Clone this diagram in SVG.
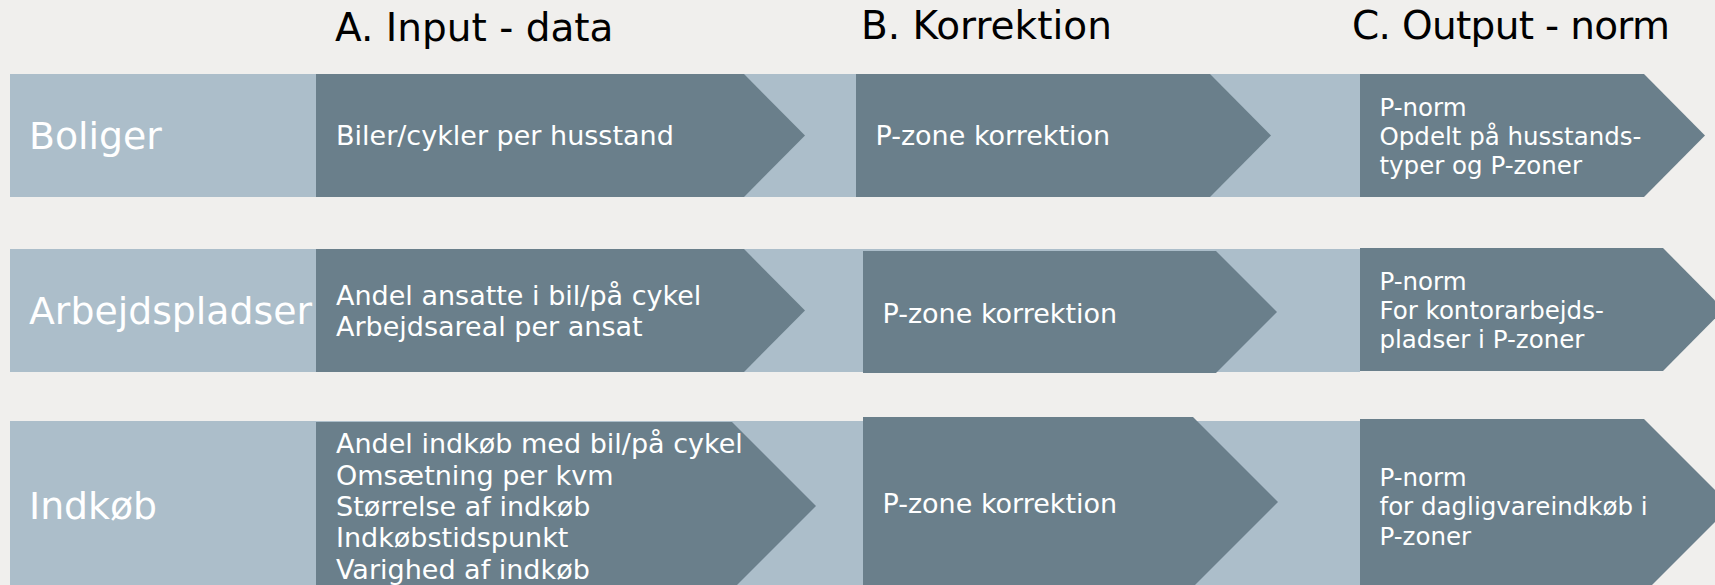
<svg xmlns="http://www.w3.org/2000/svg" width="1715" height="585" viewBox="0 0 1715 585">
<style>
.bg{fill:#F0EFED}
.band{fill:#ACBECA}
.chev{fill:#6A7F8B}
text{font-family:"DejaVu Sans","Verdana",sans-serif}
.hdr{fill:#000;font-size:39px}
.lbl{fill:#fff;font-size:37.8px}
.t{fill:#fff;font-size:27px}
.tc{fill:#fff;font-size:24.5px}
</style>
<rect class="bg" x="0" y="0" width="1715" height="585"/>
<g id="headers">
<text class="hdr" x="335" y="41">A. Input - data</text>
<text class="hdr" x="861" y="39">B. Korrektion</text>
<text class="hdr" x="1352" y="39" textLength="318">C. Output - norm</text>
</g>
<g id="row-boliger">
<rect class="band" x="10" y="74" width="1350" height="123"/>
<text class="lbl" x="29" y="149">Boliger</text>
</g>
<g id="row-arbejdspladser">
<rect class="band" x="10" y="249" width="1350" height="123"/>
<text class="lbl" x="29" y="324">Arbejdspladser</text>
</g>
<g id="row-indkob">
<rect class="band" x="10" y="421" width="1350" height="170"/>
<text class="lbl" x="29" y="519">Indkøb</text>
</g>
<g id="connectors"></g>
<g id="a1">
<polygon class="chev" points="316,74 744,74 805,135.5 744,197 316,197"/>
<text class="t" x="336" y="145">Biler/cykler per husstand</text>
</g>
<g id="b1">
<polygon class="chev" points="856,74 1210,74 1271,135.5 1210,197 856,197"/>
<text class="t" x="875.5" y="145">P-zone korrektion</text>
</g>
<g id="c1">
<polygon class="chev" points="1360,74 1644,74 1705,135.5 1644,197 1360,197"/>
<text class="tc" x="1379.5" y="116">P-norm</text>
<text class="tc" x="1379.5" y="145">Opdelt på husstands-</text>
<text class="tc" x="1379.5" y="174">typer og P-zoner</text>
</g>
<g id="a2">
<polygon class="chev" points="316,249 744,249 805,310.5 744,372 316,372"/>
<text class="t" x="336" y="305">Andel ansatte i bil/på cykel</text>
<text class="t" x="336" y="336">Arbejdsareal per ansat</text>
</g>
<g id="b2">
<polygon class="chev" points="863,251 1216,251 1277,312 1216,373 863,373"/>
<text class="t" x="882.5" y="323">P-zone korrektion</text>
</g>
<g id="c2">
<polygon class="chev" points="1360,248 1663,248 1724,309.5 1663,371 1360,371"/>
<text class="tc" x="1379.5" y="290">P-norm</text>
<text class="tc" x="1379.5" y="319">For kontorarbejds-</text>
<text class="tc" x="1379.5" y="348">pladser i P-zoner</text>
</g>
<g id="a3">
<polygon class="chev" points="316,422 732,422 816,506 732,590 316,590"/>
<text class="t" x="336" y="453">Andel indkøb med bil/på cykel</text>
<text class="t" x="336" y="484.5">Omsætning per kvm</text>
<text class="t" x="336" y="516">Størrelse af indkøb</text>
<text class="t" x="336" y="547">Indkøbstidspunkt</text>
<text class="t" x="336" y="578.5">Varighed af indkøb</text>
</g>
<g id="b3">
<polygon class="chev" points="863,417 1193,417 1278,502 1193,587 863,587"/>
<text class="t" x="882.5" y="513">P-zone korrektion</text>
</g>
<g id="c3">
<polygon class="chev" points="1360,419 1644,419 1731,506 1644,593 1360,593"/>
<text class="tc" x="1379.5" y="485.5">P-norm</text>
<text class="tc" x="1379.5" y="515">for dagligvareindkøb i</text>
<text class="tc" x="1379.5" y="544.5">P-zoner</text>
</g>
</svg>
